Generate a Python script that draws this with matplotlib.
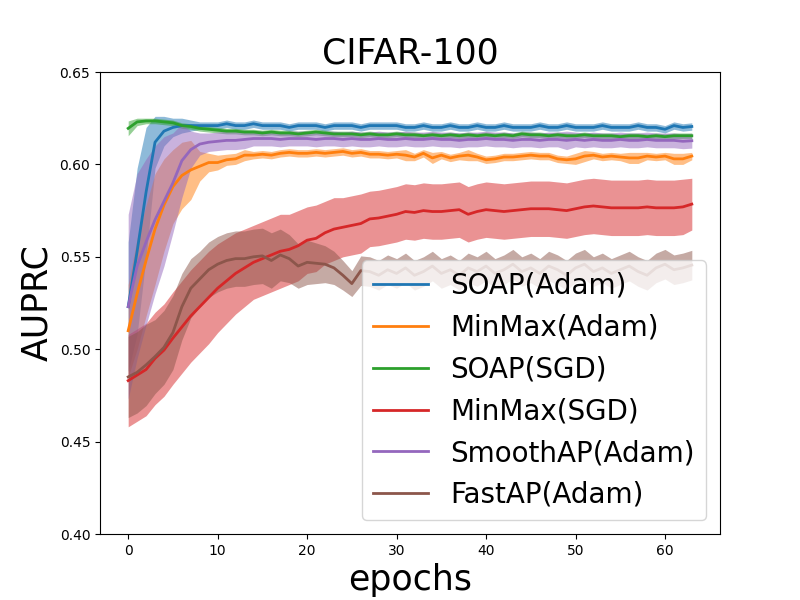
import numpy as np
from matplotlib import pyplot as plt

epochs = list(range(64))

labels = ['SOAP(Adam)', 'MinMax(Adam)', 'SOAP(SGD)', 'MinMax(SGD)',
          'SmoothAP(Adam)', 'FastAP(Adam)']

soap_adam = [0.523, 0.553, 0.585, 0.612, 0.618, 0.620, 0.621, 0.621, 0.621, 0.621,
             0.621, 0.622, 0.621, 0.621, 0.622, 0.621, 0.621, 0.621, 0.620, 0.621,
             0.621, 0.621, 0.620, 0.621, 0.621, 0.621, 0.620, 0.621, 0.621, 0.621,
             0.621, 0.620, 0.620, 0.621, 0.620, 0.620, 0.621, 0.620, 0.620, 0.621,
             0.620, 0.620, 0.621, 0.620, 0.620, 0.620, 0.621, 0.620, 0.620, 0.621,
             0.620, 0.620, 0.620, 0.621, 0.620, 0.620, 0.620, 0.621, 0.620, 0.620,
             0.619, 0.621, 0.620, 0.6205]
soap_adam_std = [0.035, 0.045, 0.035, 0.014, 0.008, 0.005, 0.004, 0.003, 0.002, 0.002,
                 0.002, 0.002, 0.002, 0.002, 0.002, 0.002, 0.002, 0.002, 0.002, 0.002,
                 0.002, 0.002, 0.002, 0.002, 0.002, 0.002, 0.002, 0.002, 0.002, 0.002,
                 0.002, 0.002, 0.002, 0.002, 0.002, 0.002, 0.002, 0.002, 0.002, 0.002,
                 0.002, 0.002, 0.002, 0.002, 0.002, 0.002, 0.002, 0.002, 0.002, 0.002,
                 0.002, 0.002, 0.002, 0.002, 0.002, 0.002, 0.002, 0.002, 0.002, 0.002,
                 0.002, 0.002, 0.002, 0.002]

minmax_adam = [0.510, 0.530, 0.548, 0.565, 0.578, 0.588, 0.594, 0.597, 0.599, 0.601,
               0.601, 0.6025, 0.603, 0.605, 0.605, 0.6055, 0.605, 0.606, 0.6065, 0.606,
               0.606, 0.6065, 0.606, 0.6065, 0.607, 0.606, 0.6065, 0.6055, 0.6055, 0.605,
               0.6055, 0.605, 0.604, 0.606, 0.6035, 0.605, 0.6035, 0.6045, 0.605, 0.604,
               0.6025, 0.603, 0.604, 0.604, 0.6045, 0.605, 0.6045, 0.6045, 0.603, 0.6025,
               0.603, 0.6045, 0.605, 0.604, 0.6045, 0.604, 0.6035, 0.6035, 0.6045, 0.604,
               0.6045, 0.603, 0.603, 0.6045]
minmax_adam_std = [0.025, 0.03, 0.03, 0.03, 0.025, 0.02, 0.018, 0.016, 0.008, 0.005,
                   0.004, 0.003, 0.003, 0.003, 0.002, 0.002, 0.002, 0.002, 0.002, 0.002,
                   0.002, 0.002, 0.002, 0.002, 0.002, 0.002, 0.002, 0.002, 0.002, 0.002,
                   0.002, 0.003, 0.002, 0.002, 0.003, 0.002, 0.002, 0.002, 0.003, 0.002,
                   0.002, 0.002, 0.002, 0.002, 0.002, 0.002, 0.002, 0.002, 0.002, 0.002,
                   0.003, 0.003, 0.002, 0.002, 0.002, 0.002, 0.003, 0.003, 0.002, 0.002,
                   0.002, 0.003, 0.003, 0.002]

soap_sgd = [0.6195, 0.623, 0.6235, 0.6235, 0.623, 0.6225, 0.621, 0.6205, 0.6195, 0.619,
            0.6185, 0.618, 0.618, 0.6175, 0.6175, 0.617, 0.6175, 0.617, 0.617, 0.6165,
            0.617, 0.6175, 0.617, 0.6165, 0.6165, 0.6165, 0.616, 0.6165, 0.616, 0.616,
            0.6165, 0.616, 0.616, 0.6155, 0.616, 0.6155, 0.616, 0.6155, 0.616, 0.6155,
            0.616, 0.6155, 0.616, 0.6155, 0.6165, 0.616, 0.616, 0.6155, 0.616, 0.6155,
            0.6155, 0.616, 0.6155, 0.6155, 0.6155, 0.615, 0.6155, 0.6155, 0.615, 0.6155,
            0.615, 0.6155, 0.6155, 0.6155]
soap_sgd_std = [0.004, 0.002, 0.0015, 0.0015, 0.0015, 0.0015, 0.0015, 0.0015, 0.0015, 0.0015,
                0.0015, 0.0015, 0.0015, 0.0015, 0.0015, 0.0015, 0.0015, 0.0015, 0.0015, 0.0015,
                0.0015, 0.0015, 0.0015, 0.0015, 0.0015, 0.0015, 0.0015, 0.0015, 0.0015, 0.0015,
                0.0015, 0.0015, 0.0015, 0.0015, 0.0015, 0.0015, 0.0015, 0.0015, 0.0015, 0.0015,
                0.0015, 0.0015, 0.0015, 0.0015, 0.0015, 0.0015, 0.0015, 0.0015, 0.0015, 0.0015,
                0.0015, 0.0015, 0.0015, 0.0015, 0.0015, 0.0015, 0.0015, 0.0015, 0.0015, 0.0015,
                0.0015, 0.0015, 0.0015, 0.0015]

minmax_sgd = [0.483, 0.486, 0.489, 0.495, 0.4995, 0.506, 0.512, 0.518, 0.523, 0.528,
              0.533, 0.537, 0.541, 0.544, 0.547, 0.549, 0.551, 0.553, 0.554, 0.556,
              0.559, 0.560, 0.563, 0.565, 0.566, 0.567, 0.568, 0.5705, 0.571, 0.572,
              0.573, 0.5745, 0.574, 0.575, 0.5745, 0.5745, 0.575, 0.5755, 0.573, 0.5745,
              0.5755, 0.575, 0.5745, 0.575, 0.5755, 0.576, 0.576, 0.576, 0.5755, 0.575,
              0.576, 0.577, 0.5775, 0.577, 0.5765, 0.5765, 0.5765, 0.5765, 0.577, 0.5765,
              0.5765, 0.5765, 0.577, 0.5785]
minmax_sgd_std = [0.025, 0.025, 0.025, 0.025, 0.025, 0.025, 0.025, 0.025, 0.025, 0.025,
                  0.024, 0.023, 0.022, 0.021, 0.02, 0.02, 0.02, 0.02, 0.019, 0.019,
                  0.018, 0.018, 0.017, 0.017, 0.016, 0.016, 0.016, 0.015, 0.015, 0.015,
                  0.015, 0.015, 0.015, 0.015, 0.015, 0.015, 0.015, 0.015, 0.015, 0.015,
                  0.015, 0.015, 0.015, 0.015, 0.015, 0.015, 0.015, 0.015, 0.015, 0.015,
                  0.015, 0.015, 0.015, 0.015, 0.015, 0.015, 0.015, 0.015, 0.015, 0.015,
                  0.015, 0.015, 0.015, 0.014]

smoothap_adam = [0.523, 0.545, 0.558, 0.570, 0.580, 0.590, 0.602, 0.608, 0.611, 0.612,
                 0.6125, 0.613, 0.613, 0.6135, 0.614, 0.614, 0.614, 0.6135, 0.614, 0.614,
                 0.614, 0.6135, 0.614, 0.614, 0.6135, 0.614, 0.6135, 0.6135, 0.614, 0.6135,
                 0.6135, 0.614, 0.6135, 0.6135, 0.614, 0.6135, 0.6135, 0.613, 0.6135, 0.6135,
                 0.614, 0.6135, 0.6135, 0.613, 0.6135, 0.6135, 0.613, 0.6135, 0.6135, 0.613,
                 0.6135, 0.613, 0.6135, 0.613, 0.613, 0.6135, 0.613, 0.613, 0.6135, 0.613,
                 0.613, 0.613, 0.6125, 0.6128]
smoothap_adam_std = [0.05, 0.05, 0.045, 0.04, 0.035, 0.027, 0.02, 0.01, 0.006, 0.005,
                     0.005, 0.005, 0.005, 0.005, 0.004, 0.004, 0.004, 0.004, 0.004, 0.004,
                     0.004, 0.004, 0.004, 0.004, 0.004, 0.004, 0.004, 0.004, 0.004, 0.004,
                     0.004, 0.004, 0.004, 0.004, 0.004, 0.004, 0.004, 0.004, 0.004, 0.004,
                     0.004, 0.004, 0.004, 0.004, 0.004, 0.004, 0.004, 0.004, 0.004, 0.005,
                     0.004, 0.004, 0.004, 0.004, 0.004, 0.004, 0.004, 0.004, 0.004, 0.004,
                     0.004, 0.004, 0.004, 0.004]

fastap_adam = [0.485, 0.4875, 0.4915, 0.496, 0.501, 0.509, 0.523, 0.533, 0.538, 0.543,
               0.546, 0.548, 0.549, 0.549, 0.550, 0.5505, 0.548, 0.551, 0.549, 0.545,
               0.547, 0.5465, 0.546, 0.544, 0.540, 0.5355, 0.5425, 0.542, 0.540, 0.543,
               0.541, 0.544, 0.540, 0.542, 0.545, 0.541, 0.543, 0.540, 0.544, 0.542,
               0.545, 0.541, 0.543, 0.546, 0.542, 0.544, 0.541, 0.545, 0.543, 0.540,
               0.544, 0.546, 0.542, 0.544, 0.541, 0.543, 0.545, 0.542, 0.540, 0.544,
               0.546, 0.543, 0.544, 0.5455]
fastap_adam_std = [0.022, 0.022, 0.022, 0.02, 0.02, 0.02, 0.018, 0.016, 0.015, 0.015,
                   0.015, 0.015, 0.015, 0.015, 0.015, 0.015, 0.015, 0.014, 0.013, 0.012,
                   0.012, 0.011, 0.01, 0.009, 0.008, 0.007, 0.008, 0.008, 0.008, 0.008,
                   0.008, 0.008, 0.008, 0.008, 0.008, 0.008, 0.008, 0.008, 0.008, 0.008,
                   0.008, 0.008, 0.008, 0.008, 0.008, 0.008, 0.008, 0.008, 0.008, 0.008,
                   0.008, 0.008, 0.008, 0.008, 0.008, 0.008, 0.008, 0.008, 0.008, 0.008,
                   0.008, 0.008, 0.008, 0.008]

means = [soap_adam, minmax_adam, soap_sgd, minmax_sgd, smoothap_adam, fastap_adam]
stds = [soap_adam_std, minmax_adam_std, soap_sgd_std, minmax_sgd_std,
        smoothap_adam_std, fastap_adam_std]
colors = ['tab:blue', 'tab:orange', 'tab:green', 'tab:red', 'tab:purple', 'tab:brown']

fig = plt.figure(figsize=(8, 6), dpi=100)
ax = plt.gca()
x = np.array(epochs)
for m, s, c, lab in zip(means, stds, colors, labels):
    m = np.array(m)
    s = np.array(s)
    ax.plot(x, m, color=c, linewidth=2, label=lab)
    ax.fill_between(x, m - s, m + s, color=c, alpha=0.5, linewidth=0)

ax.set_ylim(0.40, 0.65)
ax.set_yticks([0.40, 0.45, 0.50, 0.55, 0.60, 0.65])
ax.set_xticks([0, 10, 20, 30, 40, 50, 60])
ax.set_title('CIFAR-100', fontsize=25)
ax.set_xlabel('epochs', fontsize=25)
ax.set_ylabel('AUPRC', fontsize=25)
ax.legend(loc='lower right', fontsize=20)

plt.savefig('out.png')
